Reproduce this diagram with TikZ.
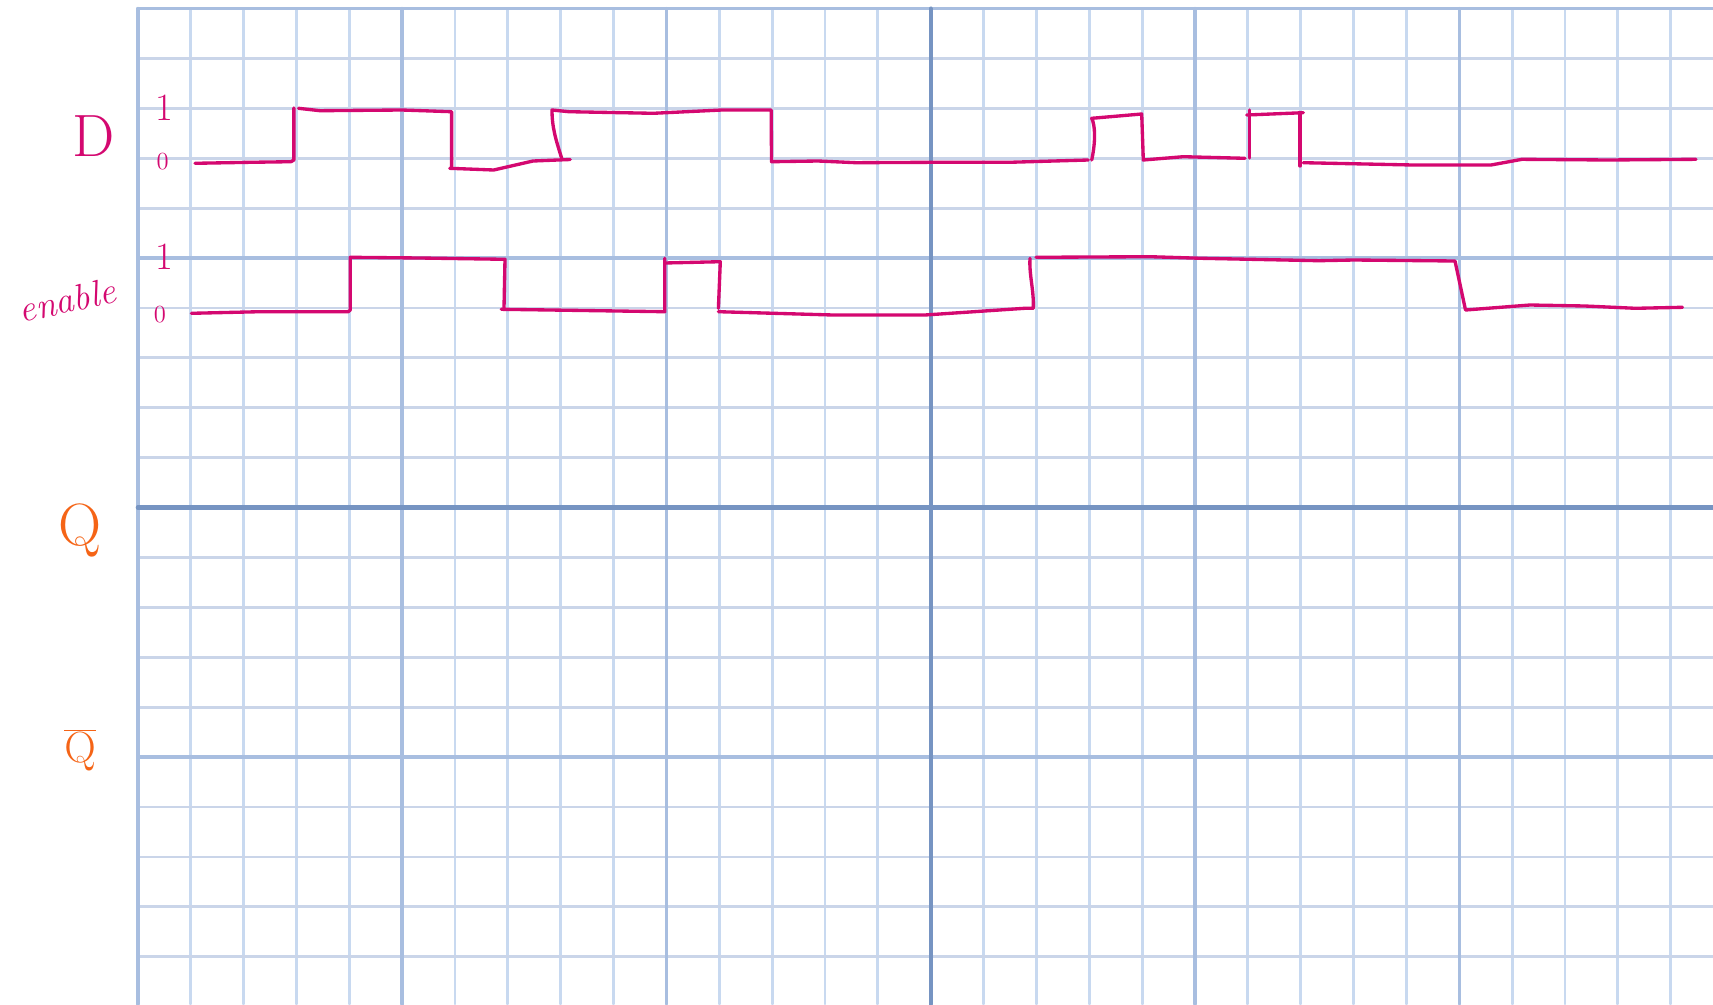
\documentclass[tikz,border=0pt]{standalone}
\begin{document}
\begin{tikzpicture}[x=0.02cm,y=-0.02cm,line cap=round,line join=round]
\definecolor{gminv}{RGB}{200,217,240}
\definecolor{gminh}{RGB}{202,213,233}
\definecolor{gmaj}{RGB}{168,190,224}
\definecolor{gcen}{RGB}{118,148,194}
\definecolor{mag}{RGB}{212,8,112}
\definecolor{org}{RGB}{245,100,22}
\tikzset{
  vminor/.style={draw=gminv,line width=1.6pt},
  hminor/.style={draw=gminh,line width=1.6pt},
  gmajor/.style={draw=gmaj,line width=2pt},
  gcentre/.style={draw=gcen,line width=2.4pt},
  wave/.style={draw=mag,line width=1.9pt},
  bigmag/.style={text=mag,font=\fontsize{34}{40}\selectfont,inner sep=0pt},
  bigorg/.style={text=org,font=\fontsize{34}{40}\selectfont,inner sep=0pt},
  onelab/.style={text=mag,font=\fontsize{22}{26}\selectfont,inner sep=0pt},
  zerolab/.style={text=mag,font=\fontsize{14}{17}\selectfont,inner sep=0pt},
  enlab/.style={text=mag,font=\fontsize{21}{25}\selectfont\itshape,inner sep=0pt}
}
\useasboundingbox (0,0) rectangle (1713,1004);
\fill[white] (0,0) rectangle (1713,1004);
% minor grid
\foreach \k in {0,...,29}{
  \draw[vminor] ({137.8+52.86*\k},8.6) -- ({137.8+52.86*\k},1004);
}
\foreach \j in {0,...,19}{
  \draw[hminor] (137.8,{8.6+49.9*\j}) -- (1713,{8.6+49.9*\j});
}
% major grid
\foreach \k in {0,5,10,20,25}{
  \draw[gmajor] ({137.8+52.86*\k},8.6) -- ({137.8+52.86*\k},1004);
}
\foreach \j in {0,5,15}{
  \draw[gmajor] (137.8,{8.6+49.9*\j}) -- (1713,{8.6+49.9*\j});
}
\draw[gcentre] ({137.8+52.86*15},8.6) -- ({137.8+52.86*15},1004);
\draw[gcentre] (137.8,{8.6+49.9*10}) -- (1713,{8.6+49.9*10});
% labels
\node[bigmag] (lD) at (94,136) {D};
\node[onelab] (d1) at (164,108) {1};
\node[zerolab] (d0) at (162.7,162) {0};
\node[enlab,rotate=12] (len) at (67,300) {enable};
\node[onelab] (e1) at (164,257) {1};
\node[zerolab] (e0) at (160,315) {0};
\node[bigorg] (lQ) at (80,530) {Q};
\node[bigorg] (lQb) at (80,750) {$\overline{\mathrm{Q}}$};
% D waveform
\draw[wave] (195,163.3) -- (250,162.3) -- (291,161.7) -- (293.9,160) -- (293.9,108);
\draw[wave] (298.5,108.3) -- (320,110.7) -- (401.8,110) -- (451.6,111.7) -- (451.6,168.3);
\draw[wave] (449.7,168.3) -- (493.7,170) -- (533,161) -- (570.2,159.5);
\draw[wave] (561.7,158.3) .. controls (556,140) and (552,128) .. (552,110) -- (569,111.7) -- (653.3,113.3) -- (722,110) -- (771.2,110) -- (771.5,161.7) -- (818,161) -- (856,162.7) -- (932.7,162.3) -- (1009,162.3) -- (1088.3,160);
\draw[wave] (1091.7,160) .. controls (1096,140) and (1095,125) .. (1091.7,118.3) -- (1141.7,114) -- (1143.3,160) -- (1183.3,156.7) -- (1245,158.3);
\draw[wave] (1249.3,158) -- (1249.3,110);
\draw[wave] (1246.7,115) -- (1303.3,112.7);
\draw[wave] (1300,112.7) -- (1300,166);
\draw[wave] (1303.3,162.7) -- (1412.7,165) -- (1491,165) -- (1522,159.3) -- (1608,160) -- (1696,159.3);
% enable waveform
\draw[wave] (191.4,313.3) -- (260,311.7) -- (348.3,311.7) -- (350.2,310) -- (350.2,257.3) -- (420,258) -- (505,259.3) -- (504,308);
\draw[wave] (501.3,309.3) -- (550,310) -- (664.8,311.7) -- (664.8,258.3);
\draw[wave] (664.8,263) -- (720.3,261.7) -- (718.4,308.3);
\draw[wave] (718.4,311.7) -- (833,315) -- (925,315) -- (1024.6,308.3) -- (1033.3,308.3) .. controls (1034,290) and (1029,275) .. (1030,258.3);
\draw[wave] (1036,257.3) -- (1150,256.7) -- (1201.6,258.3) -- (1319,260.7) -- (1354,260) -- (1455,261) -- (1465.5,310) -- (1530,305) -- (1584.8,306) -- (1635.6,308.3) -- (1682.5,307.3);
\end{tikzpicture}
\end{document}
